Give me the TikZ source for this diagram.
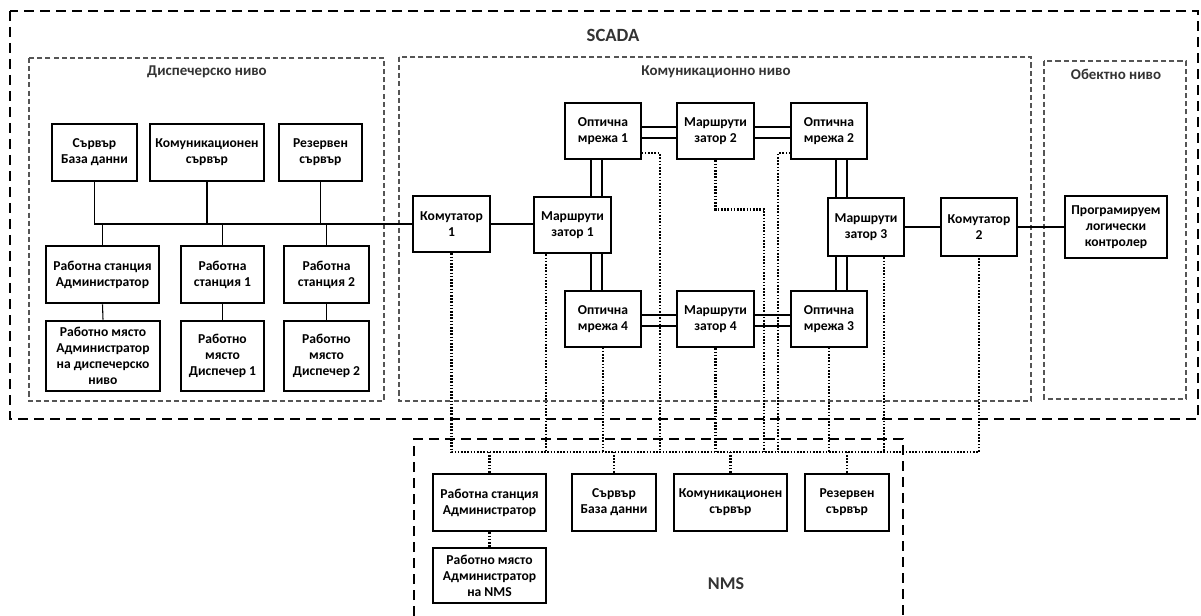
\documentclass[tikz,border=0pt]{standalone}
\usepackage{fontspec}
\setmainfont{Carlito}
\usetikzlibrary{calc}
\definecolor{ttl}{HTML}{333333}
\definecolor{lvl}{HTML}{555555}
\tikzset{
  bx/.style={draw, line width=2.2pt, inner sep=0pt, align=center, font=\bfseries\fontsize{10.2}{12}\selectfont},
  tbx/.style={draw, line width=0.9pt, inner sep=0pt, align=center, font=\bfseries\fontsize{10.2}{12}\selectfont},
  ln/.style={line width=0.8pt},
  dl/.style={line width=1.6pt, dash pattern=on 1.2pt off 1.2pt},
  outer/.style={line width=1.6pt, dash pattern=on 7.5pt off 4.5pt},
  level/.style={line width=0.8pt, draw=lvl, dash pattern=on 3.8pt off 2.3pt},
  ttlfont/.style={text=ttl, font=\bfseries\fontsize{11.2}{13}\selectfont},
}
\begin{document}
\begin{tikzpicture}[x=0.75pt,y=-0.75pt]
\useasboundingbox (0,0) rectangle (1201,616);

% frames
\draw[outer] (10,11) rectangle (1198,419);
\draw[level] (29,58) rectangle (384,401);
\draw[level] (399,57) rectangle (1031,401);
\draw[level] (1044,61) rectangle (1186,399);
\draw[outer] (414,616) -- (414,439) -- (903,439) -- (903,616);

\node[ttlfont, font=\bfseries\fontsize{14}{16}\selectfont] (tscada) at (613,35) {SCADA};
\node[ttlfont] (tdisp) at (207,72) {Диспечерско ниво};
\node[ttlfont] (tkom) at (716,72) {Комуникационно ниво};
\node[ttlfont] (tobj) at (1116,74) {Обектно ниво};
\node[ttlfont, font=\bfseries\fontsize{13.5}{16}\selectfont] (tnms) at (726,584) {NMS};

% dispatch level
\node[bx, minimum width=63.75pt, minimum height=42.75pt] (srvdb) at (94.5,152.5) {Сървър\\База данни};
\node[bx, minimum width=85.5pt, minimum height=42.75pt] (komsrv) at (207,152.5) {Комуникационен\\сървър};
\node[bx, minimum width=62.25pt, minimum height=42.75pt] (rezsrv) at (320.5,152.5) {Резервен\\сървър};
\node[bx, minimum width=84.75pt, minimum height=42.75pt] (wsadm) at (102.5,274.5) {Работна станция\\Администратор};
\node[bx, minimum width=62.25pt, minimum height=42.75pt] (ws1) at (222.5,274.5) {Работна\\станция 1};
\node[bx, minimum width=63.75pt, minimum height=42.75pt] (ws2) at (326.5,274.5) {Работна\\станция 2};
\node[bx, minimum width=85.5pt, minimum height=52.5pt] (wpadm) at (103,356) {Работно място\\Администратор\\на диспечерско\\ниво};
\node[bx, minimum width=62.25pt, minimum height=52.5pt] (wp1) at (222.5,356) {Работно\\място\\Диспечер 1};
\node[bx, minimum width=63.75pt, minimum height=52.5pt] (wp2) at (326.5,356) {Работно\\място\\Диспечер 2};

% communication level
\node[bx, minimum width=57.75pt, minimum height=42pt] (k1) at (451.5,224) {Комутатор\\1};
\node[bx, minimum width=57.75pt, minimum height=42pt] (mr1) at (572.5,225) {Маршрути\\затор 1};
\node[tbx, minimum width=57pt, minimum height=42pt] (om1) at (603,131) {Оптична\\мрежа 1};
\node[bx, minimum width=57.75pt, minimum height=42pt] (mr2) at (715.5,131) {Маршрути\\затор 2};
\node[tbx, minimum width=57pt, minimum height=42pt] (om2) at (829,131) {Оптична\\мрежа 2};
\node[tbx, minimum width=57pt, minimum height=42pt] (om4) at (603,319) {Оптична\\мрежа 4};
\node[bx, minimum width=57.75pt, minimum height=42pt] (mr4) at (715.5,319) {Маршрути\\затор 4};
\node[tbx, minimum width=57pt, minimum height=42pt] (om3) at (829,319) {Оптична\\мрежа 3};
\node[bx, minimum width=57pt, minimum height=43.5pt] (mr3) at (866,227) {Маршрути\\затор 3};
\node[bx, minimum width=57pt, minimum height=43.5pt] (k2) at (979,227) {Комутатор\\2};

% object level
\node[bx, minimum width=76.5pt, minimum height=46.5pt] (plc) at (1116,227) {Програмируем\\логически\\контролер};

% NMS
\node[bx, minimum width=84.75pt, minimum height=42.75pt] (nws) at (489.5,502.5) {Работна станция\\Администратор};
\node[bx, minimum width=63pt, minimum height=42.75pt] (nsrv) at (614,502.5) {Сървър\\База данни};
\node[bx, minimum width=84.75pt, minimum height=42.75pt] (nkom) at (730.5,502.5) {Комуникационен\\сървър};
\node[bx, minimum width=63pt, minimum height=42.75pt] (nrez) at (847,502.5) {Резервен\\сървър};
\node[bx, minimum width=84.75pt, minimum height=41.25pt] (nwp) at (489.5,575.5) {Работно място\\Администратор\\на NMS};

% dispatch-level bus
\draw[ln] (srvdb.south) |- (k1.west);
\draw[ln] (komsrv.south) -- (komsrv.south |- k1.west);
\draw[ln] (rezsrv.south) -- (rezsrv.south |- k1.west);
\draw[ln] (wsadm.north) -- (wsadm.north |- k1.west);
\draw[ln] (ws1.north) -- (ws1.north |- k1.west);
\draw[ln] (ws2.north) -- (ws2.north |- k1.west);
\draw[ln] (wsadm.south) -- (wpadm.north);
\draw[ln] (ws1.south) -- (wp1.north);
\draw[ln] (ws2.south) -- (wp2.north);

% communication level solid links
\draw[ln] (k1.east) -- (mr1.west |- k1.east);
\draw[ln] (mr3.east) -- (k2.west |- mr3.east);
\draw[ln] (k2.east) -- (plc.west |- k2.east);

% double links (named attachment points)
\coordinate (o1a) at ($(om1.south)+(-12,0)$);
\coordinate (o1b) at ($(om1.south)+(-1,0)$);
\coordinate (o4a) at ($(om4.north)+(-12,0)$);
\coordinate (o4b) at ($(om4.north)+(-1,0)$);
\coordinate (o2a) at ($(om2.south)+(7,0)$);
\coordinate (o2b) at ($(om2.south)+(18,0)$);
\coordinate (o3a) at ($(om3.north)+(7,0)$);
\coordinate (o3b) at ($(om3.north)+(18,0)$);
\draw[ln] (o1a) -- (o1a |- mr1.north);
\draw[ln] (o1b) -- (o1b |- mr1.north);
\draw[ln] (o4a) -- (o4a |- mr1.south);
\draw[ln] (o4b) -- (o4b |- mr1.south);
\draw[ln] (o2a) -- (o2a |- mr3.north);
\draw[ln] (o2b) -- (o2b |- mr3.north);
\draw[ln] (o3a) -- (o3a |- mr3.south);
\draw[ln] (o3b) -- (o3b |- mr3.south);
\foreach \a/\b in {om1/mr2, mr2/om2, om4/mr4, mr4/om3}{
  \draw[ln] ($(\a.east)+(0,-4)$) -- ($(\b.west)+(0,-4)$);
  \draw[ln] ($(\a.east)+(0,7)$) -- ($(\b.west)+(0,7)$);
}

% NMS dotted links
\coordinate (nbus) at (0,452);
\coordinate (m1d) at ($(mr1.south)+(-26.5,0)$);
\coordinate (o1d) at ($(om1.east)+(0,22)$);
\coordinate (o1t) at ($(om1.east)+(18,22)$);
\coordinate (o2d) at ($(om2.west)+(0,22)$);
\coordinate (o2t) at ($(om2.west)+(-12,22)$);
\coordinate (m2t) at ($(mr2.south)+(48.5,49)$);
\coordinate (m3d) at ($(mr3.south)+(18,0)$);
\draw[dl] (k1.south) |- (k2.south |- nbus) -- (k2.south);
\draw[dl] (m1d) -- (m1d |- nbus);
\draw[dl] (o1d) -- (o1t) -- (o1t |- nbus);
\draw[dl] (o2d) -- (o2t) -- (o2t |- nbus);
\draw[dl] (mr2.south) |- (m2t) -- (m2t |- nbus);
\draw[dl] (om4.south) -- (om4.south |- nbus);
\draw[dl] (mr4.south) -- (mr4.south |- nbus);
\draw[dl] (om3.south) -- (om3.south |- nbus);
\draw[dl] (m3d) -- (m3d |- nbus);
\draw[dl] (nws.north) -- (nws.north |- nbus);
\draw[dl] (nsrv.north) -- (nsrv.north |- nbus);
\draw[dl] (nkom.north) -- (nkom.north |- nbus);
\draw[dl] (nrez.north) -- (nrez.north |- nbus);
\draw[dl] (nws.south) -- (nwp.north);
\end{tikzpicture}
\end{document}
